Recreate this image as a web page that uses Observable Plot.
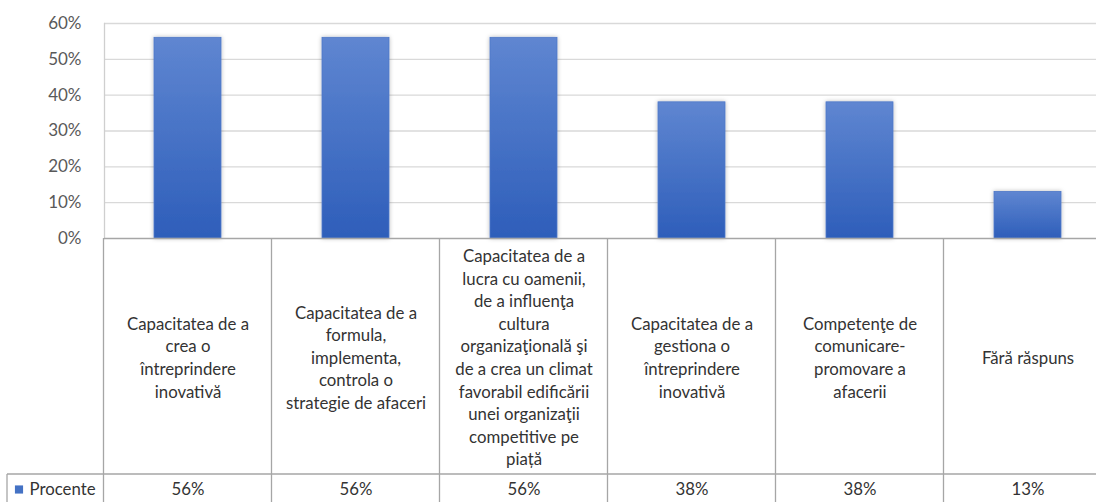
<!DOCTYPE html>
<html>
<head>
<meta charset="utf-8">
<script src="https://cdn.jsdelivr.net/npm/d3@7"></script>
<script src="https://cdn.jsdelivr.net/npm/@observablehq/plot@0.6"></script>
<style>
  html, body { margin: 0; padding: 0; background: #fff; }
  #chart svg { display: block; }
</style>
</head>
<body>
<div id="chart"></div>
<script>
// ---- data ----
const categories = [
  "Capacitatea de a\ncrea o\nîntreprindere\ninovativă",
  "Capacitatea de a\nformula,\nimplementa,\ncontrola o\nstrategie de afaceri",
  "Capacitatea de a\nlucra cu oamenii,\nde a influenţa\ncultura\norganizaţională şi\nde a crea un climat\nfavorabil edificării\nunei organizaţii\ncompetitive pe\npiață",
  "Capacitatea de a\ngestiona o\nîntreprindere\ninovativă",
  "Competenţe de\ncomunicare-\npromovare a\nafacerii",
  "Fără răspuns"
];
const values = [0.56, 0.56, 0.56, 0.38, 0.38, 0.13];
const valueLabels = ["56%", "56%", "56%", "38%", "38%", "13%"];
const seriesName = "Procente";
const yTicks = [0, 0.1, 0.2, 0.3, 0.4, 0.5, 0.6];

const rows = categories.map((c, i) => ({category: c, value: values[i], label: valueLabels[i]}));

// ---- layout ----
const W = 1096, H = 502;
const mLeft = 104, mRight = -16, mTop = 23, mBottom = 264;
const headerH = 236;   // category label row height
const tableLeft = 7;
const textColor = "#333333";
const lineColor = "#a6a6a6";
const tableFont = 16.8;

const defs = () => {
  const d = d3.create("svg:defs");
  const g = d.append("linearGradient").attr("id", "barGrad").attr("x1", 0).attr("x2", 0).attr("y1", 0).attr("y2", 1);
  g.append("stop").attr("offset", "0%").attr("stop-color", "#5f86d1");
  g.append("stop").attr("offset", "100%").attr("stop-color", "#2e5eba");
  const f = d.append("filter").attr("id", "barShadow").attr("x", "-20%").attr("y", "-20%").attr("width", "140%").attr("height", "140%");
  f.append("feDropShadow").attr("dx", 0).attr("dy", 0).attr("stdDeviation", 2.2)
    .attr("flood-color", "#000").attr("flood-opacity", 0.28);
  return d.node();
};

// data table grid drawn from the x scale
const tableGrid = (index, scales, values, dims) => {
  const x = scales.x;
  const step = x.step();
  const half = (step - x.bandwidth()) / 2;
  const y0 = dims.height - dims.marginBottom;
  const rowY = y0 + headerH;
  const edges = categories.map(c => x(c) - half);
  edges.push(x(categories[categories.length - 1]) + x.bandwidth() + half);
  const g = d3.create("svg:g").attr("stroke", lineColor).attr("stroke-width", 1.3).attr("fill", "none");
  for (const e of edges) {
    g.append("line").attr("x1", e).attr("x2", e).attr("y1", y0).attr("y2", dims.height);
  }
  g.append("line").attr("x1", tableLeft).attr("x2", dims.width).attr("y1", rowY).attr("y2", rowY);
  g.append("line").attr("x1", tableLeft).attr("x2", tableLeft).attr("y1", rowY).attr("y2", dims.height);
  return g.node();
};

const chart = Plot.plot({
  width: W,
  height: H,
  marginLeft: mLeft,
  marginRight: mRight,
  marginTop: mTop,
  marginBottom: mBottom,
  style: {fontFamily: "Lato, 'Open Sans', sans-serif", background: "#fff", overflow: "hidden"},
  x: {domain: categories, paddingInner: 0.6, paddingOuter: 0.3, axis: null},
  y: {domain: [0, 0.6], ticks: yTicks, axis: null},
  marks: [
    defs,
    Plot.ruleY(yTicks.filter(t => t > 0), {stroke: "#d9d9d9", strokeWidth: 1.4}),
    Plot.frame({anchor: "left", stroke: "#cfcfcf", strokeWidth: 1.3}),
    Plot.barY(rows, {x: "category", y: "value", fill: "url(#barGrad)", stroke: "#4f78c8", strokeWidth: 0.8,
      render: (i, s, v, d, ctx, next) => { const n = next(i, s, v, d, ctx); n.setAttribute("filter", "url(#barShadow)"); return n; }}),
    Plot.ruleY([0], {stroke: "#a6a6a6", strokeWidth: 1.5}),
    Plot.axisY({ticks: yTicks, tickFormat: d3.format(".0%"), tickSize: 0, tickPadding: 23, fontSize: 17, color: "#595959", label: null}),
    tableGrid,
    Plot.text(rows, {x: "category", text: "category", frameAnchor: "bottom", dy: headerH / 2, lineAnchor: "middle",
      lineHeight: 22.6 / tableFont, fontSize: tableFont, fill: textColor}),
    Plot.text(rows, {x: "category", text: "label", frameAnchor: "bottom", dy: headerH + 15, lineAnchor: "middle",
      fontSize: tableFont, fill: textColor}),
    Plot.dot([seriesName], {frameAnchor: "bottom-left", dx: -85.5, dy: headerH + 15, symbol: "square", r: 4.6,
      fill: "#4472c4", stroke: null}),
    Plot.text([seriesName], {frameAnchor: "bottom-left", dx: -75, dy: headerH + 15, textAnchor: "start", lineAnchor: "middle",
      fontSize: tableFont, fill: textColor})
  ]
});
document.getElementById("chart").appendChild(chart);
</script>
</body>
</html>
